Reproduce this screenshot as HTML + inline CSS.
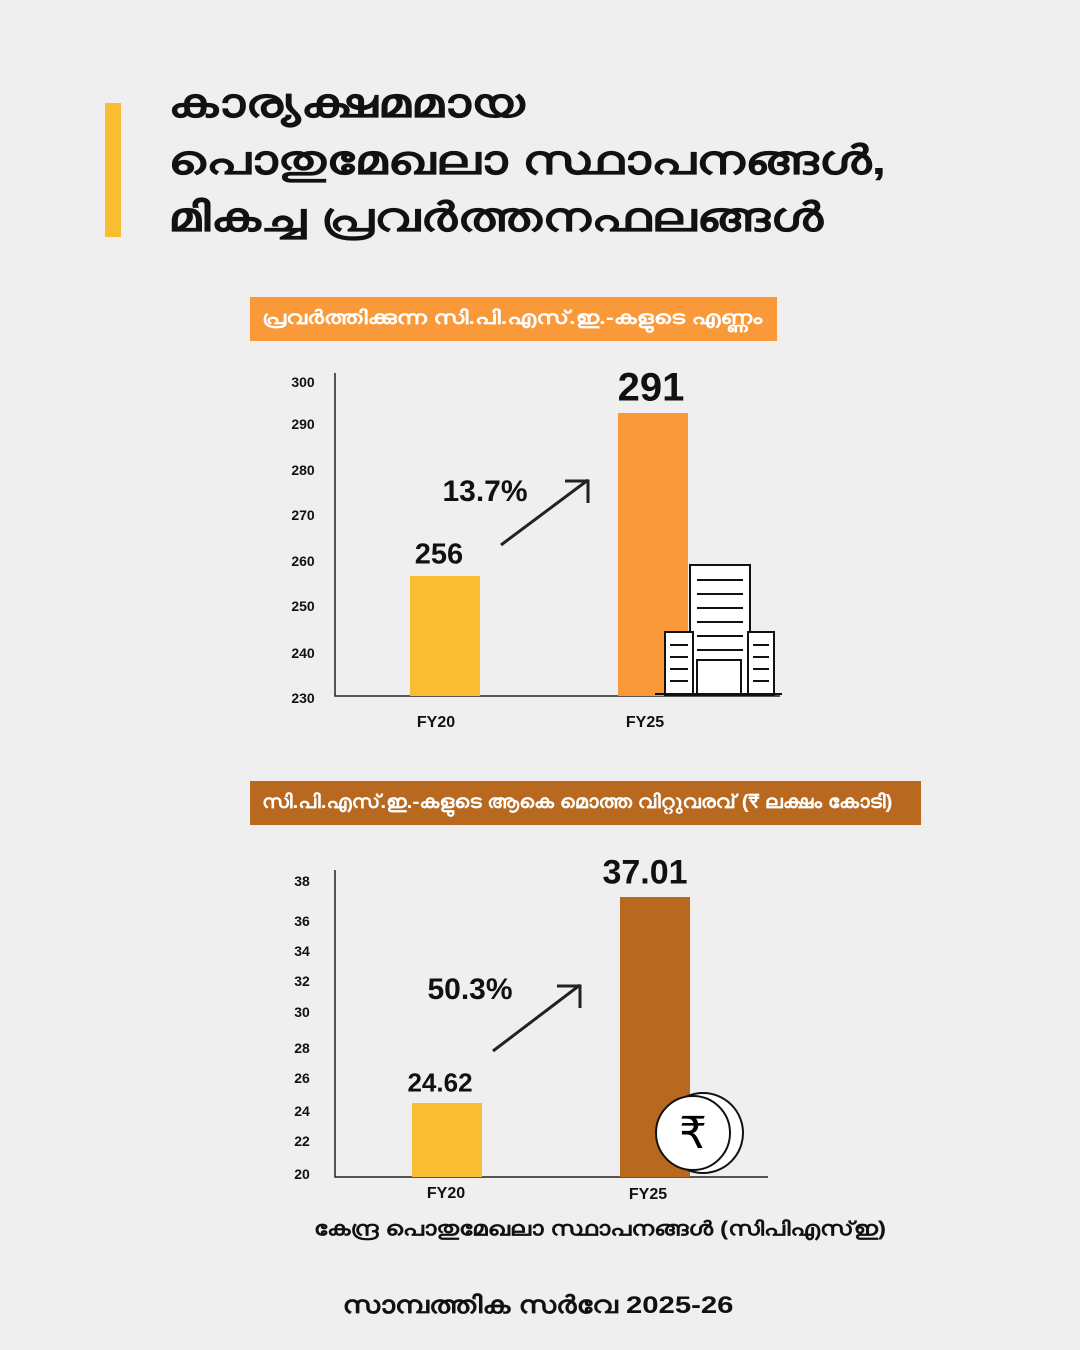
<!DOCTYPE html>
<html><head><meta charset="utf-8"><style>
body{margin:0;width:1080px;height:1350px;background:#efefef;position:relative;overflow:hidden;font-family:"Liberation Sans","Noto Sans CJK SC",sans-serif;color:#111}
.a{position:absolute;white-space:nowrap}
.t{font-size:40px;font-weight:bold;left:168px;line-height:57px;transform:scaleX(1.32);transform-origin:left center}
.tk{font-size:14px;font-weight:bold;transform:translate(-50%,-50%)}
.c{transform:translate(-50%,-50%)}
</style></head><body>
<div class="a" style="left:105px;top:103px;width:16px;height:134px;background:#f9bc33"></div>
<div class="a t" style="top:76px">കാര്യക്ഷമമായ</div>
<div class="a t" style="top:133px">പൊതുമേഖലാ സ്ഥാപനങ്ങൾ,</div>
<div class="a t" style="top:190px">മികച്ച പ്രവർത്തനഫലങ്ങൾ</div>

<div class="a" style="left:250px;top:297px;width:527px;height:44px;background:#f9993a;overflow:hidden"><div class="a" style="left:12px;top:0;color:#fff;font-size:19px;font-weight:bold;line-height:44px;transform:scaleX(1.26);transform-origin:left center">പ്രവർത്തിക്കുന്ന സി.പി.എസ്.ഇ.-കളുടെ എണ്ണം</div></div>
<div class="a" style="left:250px;top:781px;width:671px;height:44px;background:#b8691f;overflow:hidden"><div class="a" style="left:12px;top:0;color:#fff;font-size:19px;font-weight:bold;line-height:44px;transform:scaleX(1.1);transform-origin:left center">സി.പി.എസ്.ഇ.-കളുടെ ആകെ മൊത്ത വിറ്റുവരവ് (₹ ലക്ഷം കോടി)</div></div>

<svg class="a" style="left:0;top:0" width="1080" height="1350">
<g stroke="#222" stroke-width="1.5" fill="none">
<path d="M335 373V696H780"/><path d="M335 870V1177H768"/>
<path d="M501 545L588 480M565 481H588V503" stroke-width="3"/>
<path d="M493 1051L580 985M557 986H580V1008" stroke-width="3"/>
</g>
<rect x="410" y="576" width="70" height="120" fill="#f9bc33"/>
<rect x="618" y="413" width="70" height="283" fill="#f9993a"/>
<rect x="412" y="1103" width="70" height="74" fill="#f9bc33"/>
<rect x="620" y="897" width="70" height="280" fill="#b8691f"/>
<g stroke="#111" stroke-width="2" fill="#fff">
<rect x="690" y="565" width="60" height="130"/>
<rect x="665" y="632" width="28" height="63"/>
<rect x="748" y="632" width="26" height="63"/>
<rect x="697" y="660" width="44" height="35"/>
</g>
<g stroke="#111" stroke-width="2">
<path d="M697 580h46M697 594h46M697 608h46M697 622h46M697 636h46M697 650h46M670 645h18M670 657h18M670 669h18M670 681h18M753 645h16M753 657h16M753 669h16M753 681h16M655 694h127"/>
</g>
<circle cx="703" cy="1133" r="40" fill="#fff" stroke="#111" stroke-width="2"/>
<circle cx="693" cy="1133" r="37" fill="#fff" stroke="#111" stroke-width="2"/>
<text x="693" y="1148" font-size="44" text-anchor="middle" font-family="DejaVu Sans">₹</text>
</svg>

<div class="a tk" style="left:303px;top:382px">300</div>
<div class="a tk" style="left:303px;top:424px">290</div>
<div class="a tk" style="left:303px;top:470px">280</div>
<div class="a tk" style="left:303px;top:515px">270</div>
<div class="a tk" style="left:303px;top:561px">260</div>
<div class="a tk" style="left:303px;top:606px">250</div>
<div class="a tk" style="left:303px;top:653px">240</div>
<div class="a tk" style="left:303px;top:698px">230</div>
<div class="a tk" style="left:302px;top:881px">38</div>
<div class="a tk" style="left:302px;top:921px">36</div>
<div class="a tk" style="left:302px;top:951px">34</div>
<div class="a tk" style="left:302px;top:981px">32</div>
<div class="a tk" style="left:302px;top:1012px">30</div>
<div class="a tk" style="left:302px;top:1048px">28</div>
<div class="a tk" style="left:302px;top:1078px">26</div>
<div class="a tk" style="left:302px;top:1111px">24</div>
<div class="a tk" style="left:302px;top:1141px">22</div>
<div class="a tk" style="left:302px;top:1174px">20</div>
<div class="a c" style="left:436px;top:723px;font-size:16px;font-weight:bold">FY20</div>
<div class="a c" style="left:645px;top:723px;font-size:16px;font-weight:bold">FY25</div>
<div class="a c" style="left:446px;top:1194px;font-size:16px;font-weight:bold">FY20</div>
<div class="a c" style="left:648px;top:1195px;font-size:16px;font-weight:bold">FY25</div>
<div class="a c" style="left:439px;top:555px;font-size:29px;font-weight:bold">256</div>
<div class="a c" style="left:651px;top:388px;font-size:40px;font-weight:bold">291</div>
<div class="a c" style="left:485px;top:492px;font-size:30px;font-weight:bold">13.7%</div>
<div class="a c" style="left:440px;top:1083px;font-size:26px;font-weight:bold">24.62</div>
<div class="a c" style="left:645px;top:873px;font-size:34px;font-weight:bold">37.01</div>
<div class="a c" style="left:470px;top:990px;font-size:30px;font-weight:bold">50.3%</div>
<div class="a c" style="left:600px;top:1230px;font-size:20px;font-weight:bold;transform:translate(-50%,-50%) scaleX(1.23)">കേന്ദ്ര പൊതുമേഖലാ സ്ഥാപനങ്ങൾ (സിപിഎസ്ഇ)</div>
<div class="a c" style="left:538px;top:1306px;font-size:24px;font-weight:bold;transform:translate(-50%,-50%) scaleX(1.22)">സാമ്പത്തിക സർവേ 2025-26</div>
</body></html>
